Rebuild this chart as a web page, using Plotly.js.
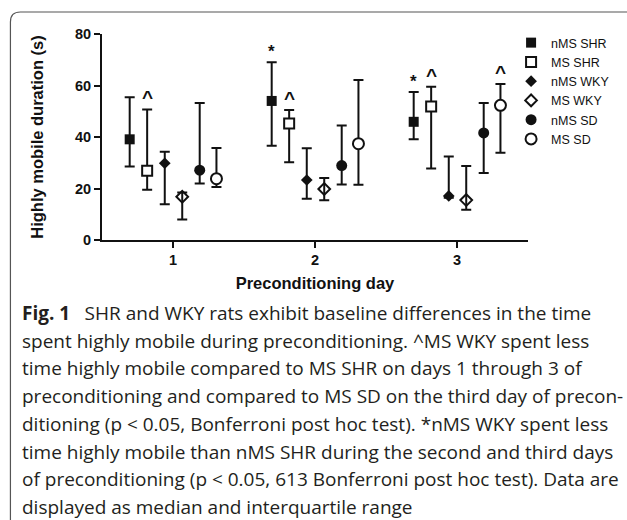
<!DOCTYPE html>
<html>
<head>
<meta charset="utf-8">
<script src="https://cdn.plot.ly/plotly-3.0.1.min.js"></script>
<style>
  html, body { margin: 0; padding: 0; background: #fff; }
  #chart { width: 627px; height: 520px; }
</style>
</head>
<body>
<div id="chart"></div>
<script>
// ---------- data ----------
const days = [1, 2, 3];
const seriesNames = ["nMS SHR", "MS SHR", "nMS WKY", "MS WKY", "nMS SD", "MS SD"];

const nMS_SHR_median = [39.1, 54.0, 45.9];
const nMS_SHR_q3     = [55.4, 69.0, 57.5];
const nMS_SHR_q1     = [28.5, 36.6, 39.1];

const MS_SHR_median  = [26.9, 45.2, 51.8];
const MS_SHR_q3      = [50.7, 50.5, 59.5];
const MS_SHR_q1      = [19.5, 30.2, 27.8];

const nMS_WKY_median = [29.8, 23.3, 17.1];
const nMS_WKY_q3     = [34.3, 35.6, 32.4];
const nMS_WKY_q1     = [13.9, 16.0, 16.4];

const MS_WKY_median  = [16.8, 19.8, 15.5];
const MS_WKY_q3      = [18.4, 24.1, 28.7];
const MS_WKY_q1      = [8.0, 15.4, 11.7];

const nMS_SD_median  = [27.1, 28.9, 41.6];
const nMS_SD_q3      = [53.2, 44.5, 53.2];
const nMS_SD_q1      = [21.9, 21.6, 26.0];

const MS_SD_median   = [23.8, 37.4, 52.3];
const MS_SD_q3       = [35.7, 62.1, 60.6];
const MS_SD_q1       = [20.6, 21.5, 33.9];

// significance marks: series index, day index, symbol
const sigSeries = [1, 0, 1, 0, 1, 5];
const sigDay    = [0, 1, 1, 2, 2, 2];
const sigSymbol = ["^", "*", "^", "*", "^", "^"];

const yTicks = [0, 20, 40, 60, 80];
const xTickLabels = ["1", "2", "3"];

const captionLines = [
  "<b>Fig. 1</b>\u2002 SHR and WKY rats exhibit baseline differences in the time",
  "spent highly mobile during preconditioning. ^MS WKY spent less",
  "time highly mobile compared to MS SHR on days 1 through 3 of",
  "preconditioning and compared to MS SD on the third day of precon-",
  "ditioning (p < 0.05, Bonferroni post hoc test). *nMS WKY spent less",
  "time highly mobile than nMS SHR during the second and third days",
  "of preconditioning (p < 0.05, 613 Bonferroni post hoc test). Data are",
  "displayed as median and interquartile range"
];

// ---------- layout constants ----------
const W = 627, H = 520;
const M = { l: 102, r: 97, t: 34, b: 280 };
const PW = W - M.l - M.r, PH = H - M.t - M.b;
const px2x = px => (px - M.l) / PW;
const py2y = py => (H - M.b - py) / PH;

const offsets = [-0.305, -0.182, -0.058, 0.065, 0.188, 0.306];
const medians = [nMS_SHR_median, MS_SHR_median, nMS_WKY_median, MS_WKY_median, nMS_SD_median, MS_SD_median];
const q3s = [nMS_SHR_q3, MS_SHR_q3, nMS_WKY_q3, MS_WKY_q3, nMS_SD_q3, MS_SD_q3];
const q1s = [nMS_SHR_q1, MS_SHR_q1, nMS_WKY_q1, MS_WKY_q1, nMS_SD_q1, MS_SD_q1];
const markerStyles = [
  { symbol: "square", size: 10, color: "#111", line: { color: "#111", width: 0 } },
  { symbol: "square", size: 10, color: "#fff", line: { color: "#111", width: 2 } },
  { symbol: "diamond", size: 9, color: "#111", line: { color: "#111", width: 0 } },
  { symbol: "diamond-open", size: 9, color: "#111", line: { color: "#111", width: 2 } },
  { symbol: "circle", size: 11, color: "#111", line: { color: "#111", width: 0 } },
  { symbol: "circle", size: 11, color: "#fff", line: { color: "#111", width: 2 } }
];

const traces = seriesNames.map((name, i) => ({
  type: "scatter",
  mode: "markers",
  name: name,
  x: days.map(d => d + offsets[i]),
  y: medians[i],
  marker: markerStyles[i],
  error_y: {
    type: "data",
    symmetric: false,
    array: q3s[i].map((v, k) => v - medians[i][k]),
    arrayminus: medians[i].map((v, k) => v - q1s[i][k]),
    color: "#111",
    thickness: 2,
    width: 5
  },
  cliponaxis: false,
  hoverinfo: "x+y"
}));

const annotations = [];
sigSymbol.forEach((s, k) => {
  const si = sigSeries[k], di = sigDay[k];
  annotations.push({
    x: days[di] + offsets[si],
    y: q3s[si][di],
    xref: "x", yref: "y",
    text: "<b>" + s + "</b>",
    showarrow: false,
    yanchor: "bottom",
    yshift: s === "*" ? -1 : -1,
    font: { family: "Liberation Sans, Arial, sans-serif", size: s === "*" ? 17 : 19, color: "#111" }
  });
});

captionLines.forEach((t, k) => {
  annotations.push({
    x: px2x(20), y: py2y(313 + k * 27.7),
    xref: "paper", yref: "paper",
    xanchor: "left", yanchor: "middle",
    text: t, showarrow: false, align: "left",
    font: { family: "Open Sans, sans-serif", size: 19, color: "#231f20" }
  });
});

// rounded figure border (top and left edges)
const bx = px2x(10), by = py2y(12), rx = 10 / PW, ry = 10 / PH;
const borderPath = `M ${bx},${py2y(525)} L ${bx},${by - ry} Q ${bx},${by} ${bx + rx},${by} L ${px2x(632)},${by}`;

const layout = {
  width: W, height: H,
  margin: M,
  paper_bgcolor: "#fff",
  plot_bgcolor: "#fff",
  showlegend: true,
  legend: {
    x: px2x(513), y: py2y(28),
    xanchor: "left", yanchor: "top",
    font: { family: "Liberation Sans, Arial, sans-serif", size: 12.5, color: "#111" },
    bgcolor: "rgba(0,0,0,0)",
    tracegroupgap: 0,
    itemsizing: "trace"
  },
  xaxis: {
    range: [0.5, 3.5],
    tickvals: days,
    ticktext: xTickLabels,
    ticks: "outside", ticklen: 6, tickwidth: 2, tickcolor: "#111",
    showline: true, linewidth: 2, linecolor: "#111",
    showgrid: false, zeroline: false,
    tickfont: { family: "Liberation Sans, Arial, sans-serif", size: 14.5, color: "#111", weight: "bold" },
    title: { text: "<b>Preconditioning day</b>", standoff: 10,
             font: { family: "Liberation Sans, Arial, sans-serif", size: 16.5, color: "#111" } }
  },
  yaxis: {
    range: [0, 80],
    tickvals: yTicks,
    ticks: "outside", ticklen: 6, tickwidth: 2, tickcolor: "#111",
    showline: true, linewidth: 2, linecolor: "#111",
    showgrid: false, zeroline: false,
    tickfont: { family: "Liberation Sans, Arial, sans-serif", size: 14.5, color: "#111", weight: "bold" },
    title: { text: "<b>Highly mobile duration (s)</b>", standoff: 27,
             font: { family: "Liberation Sans, Arial, sans-serif", size: 16.5, color: "#111" } }
  },
  annotations: annotations,
  shapes: [{
    type: "path", xref: "paper", yref: "paper",
    path: borderPath,
    line: { color: "#555", width: 1.2 }
  }]
};

Plotly.newPlot("chart", traces, layout, { staticPlot: true, displayModeBar: false });
</script>
</body>
</html>
